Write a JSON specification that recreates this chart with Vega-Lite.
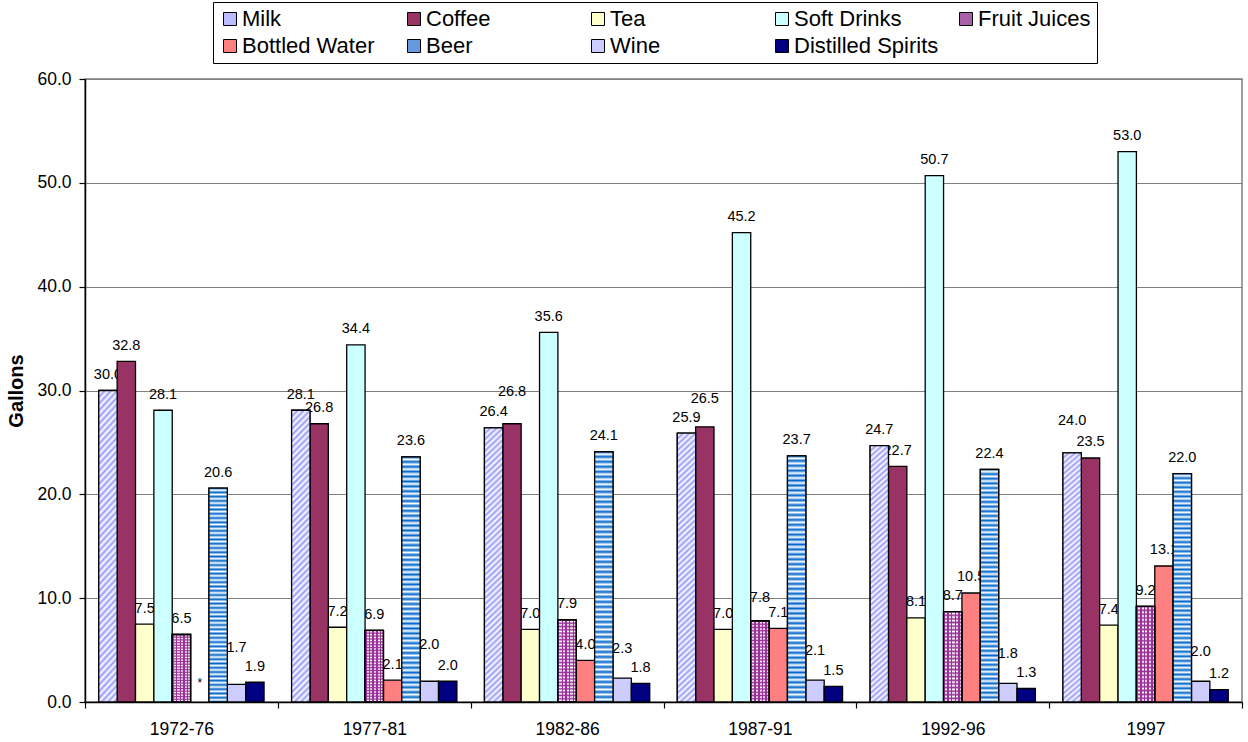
{
  "$schema": "https://vega.github.io/schema/vega-lite/v6.json",
  "width": 1157,
  "height": 623,
  "autosize": {"type": "none"},
  "padding": {"left": 85, "top": 79, "right": 6, "bottom": 40},
  "background": "white",
  "config": {
    "font": "Liberation Sans",
    "view": {"stroke": "#808080", "strokeWidth": 1.5},
    "axisX": {"domainColor": "#000", "domainWidth": 1.5, "tickColor": "#000", "tickWidth": 1.2, "tickSize": 6, "tickBand": "extent", "labelFontSize": 17.5, "labelPadding": 12, "labelColor": "#000", "labelAngle": 0, "grid": false},
    "axisY": {"domainColor": "#000", "domainWidth": 1.5, "tickColor": "#000", "tickWidth": 1.2, "tickSize": 6, "labelFontSize": 17.5, "labelPadding": 8, "labelColor": "#000", "gridColor": "#808080", "gridWidth": 1.2, "titleFontSize": 20, "titleFontWeight": "bold", "titleColor": "#000", "titlePadding": 10}
  },
  "data": {"values": [
    {"period": "1972-76", "drink": "Milk", "value": 30.0},
    {"period": "1972-76", "drink": "Coffee", "value": 32.8},
    {"period": "1972-76", "drink": "Tea", "value": 7.5},
    {"period": "1972-76", "drink": "Soft Drinks", "value": 28.1},
    {"period": "1972-76", "drink": "Fruit Juices", "value": 6.5},
    {"period": "1972-76", "drink": "Bottled Water", "value": null},
    {"period": "1972-76", "drink": "Beer", "value": 20.6},
    {"period": "1972-76", "drink": "Wine", "value": 1.7},
    {"period": "1972-76", "drink": "Distilled Spirits", "value": 1.9},
    {"period": "1977-81", "drink": "Milk", "value": 28.1},
    {"period": "1977-81", "drink": "Coffee", "value": 26.8},
    {"period": "1977-81", "drink": "Tea", "value": 7.2},
    {"period": "1977-81", "drink": "Soft Drinks", "value": 34.4},
    {"period": "1977-81", "drink": "Fruit Juices", "value": 6.9},
    {"period": "1977-81", "drink": "Bottled Water", "value": 2.1},
    {"period": "1977-81", "drink": "Beer", "value": 23.6},
    {"period": "1977-81", "drink": "Wine", "value": 2.0},
    {"period": "1977-81", "drink": "Distilled Spirits", "value": 2.0},
    {"period": "1982-86", "drink": "Milk", "value": 26.4},
    {"period": "1982-86", "drink": "Coffee", "value": 26.8},
    {"period": "1982-86", "drink": "Tea", "value": 7.0},
    {"period": "1982-86", "drink": "Soft Drinks", "value": 35.6},
    {"period": "1982-86", "drink": "Fruit Juices", "value": 7.9},
    {"period": "1982-86", "drink": "Bottled Water", "value": 4.0},
    {"period": "1982-86", "drink": "Beer", "value": 24.1},
    {"period": "1982-86", "drink": "Wine", "value": 2.3},
    {"period": "1982-86", "drink": "Distilled Spirits", "value": 1.8},
    {"period": "1987-91", "drink": "Milk", "value": 25.9},
    {"period": "1987-91", "drink": "Coffee", "value": 26.5},
    {"period": "1987-91", "drink": "Tea", "value": 7.0},
    {"period": "1987-91", "drink": "Soft Drinks", "value": 45.2},
    {"period": "1987-91", "drink": "Fruit Juices", "value": 7.8},
    {"period": "1987-91", "drink": "Bottled Water", "value": 7.1},
    {"period": "1987-91", "drink": "Beer", "value": 23.7},
    {"period": "1987-91", "drink": "Wine", "value": 2.1},
    {"period": "1987-91", "drink": "Distilled Spirits", "value": 1.5},
    {"period": "1992-96", "drink": "Milk", "value": 24.7},
    {"period": "1992-96", "drink": "Coffee", "value": 22.7},
    {"period": "1992-96", "drink": "Tea", "value": 8.1},
    {"period": "1992-96", "drink": "Soft Drinks", "value": 50.7},
    {"period": "1992-96", "drink": "Fruit Juices", "value": 8.7},
    {"period": "1992-96", "drink": "Bottled Water", "value": 10.5},
    {"period": "1992-96", "drink": "Beer", "value": 22.4},
    {"period": "1992-96", "drink": "Wine", "value": 1.8},
    {"period": "1992-96", "drink": "Distilled Spirits", "value": 1.3},
    {"period": "1997", "drink": "Milk", "value": 24.0},
    {"period": "1997", "drink": "Coffee", "value": 23.5},
    {"period": "1997", "drink": "Tea", "value": 7.4},
    {"period": "1997", "drink": "Soft Drinks", "value": 53.0},
    {"period": "1997", "drink": "Fruit Juices", "value": 9.2},
    {"period": "1997", "drink": "Bottled Water", "value": 13.1},
    {"period": "1997", "drink": "Beer", "value": 22.0},
    {"period": "1997", "drink": "Wine", "value": 2.0},
    {"period": "1997", "drink": "Distilled Spirits", "value": 1.2}
  ]},
  "encoding": {
    "x": {"field": "period", "type": "nominal", "sort": null, "title": null, "scale": {"paddingInner": 0, "paddingOuter": 0}},
    "xOffset": {"field": "drink", "type": "nominal", "sort": ["Milk", "Coffee", "Tea", "Soft Drinks", "Fruit Juices", "Bottled Water", "Beer", "Wine", "Distilled Spirits"], "scale": {"paddingInner": 0, "paddingOuter": 0.75}}
  },
  "layer": [
    {
      "transform": [{"filter": "datum.value != null && datum.drink != 'Wine' && !(datum.period == '1982-86' && datum.drink == 'Coffee') && !(datum.period == '1987-91' && datum.drink == 'Coffee') && !(datum.period == '1997' && datum.drink == 'Milk') && !(datum.period == '1987-91' && datum.drink == 'Fruit Juices')"}],
      "mark": {"type": "text", "fontSize": 14.5, "dy": -11.5, "baseline": "alphabetic", "align": "center", "color": "#000"},
      "encoding": {
        "y": {"field": "value", "type": "quantitative", "title": "Gallons", "scale": {"domain": [0, 60], "nice": false}, "axis": {"values": [0, 10, 20, 30, 40, 50, 60], "format": ".1f"}},
        "text": {"field": "value", "type": "quantitative", "format": ".1f"}
      }
    },
    {
      "transform": [{"filter": "(datum.period == '1982-86' && datum.drink == 'Coffee') || (datum.period == '1997' && datum.drink == 'Milk')"}],
      "mark": {"type": "text", "fontSize": 14.5, "dy": -28, "baseline": "alphabetic", "align": "center", "color": "#000"},
      "encoding": {
        "y": {"field": "value", "type": "quantitative", "title": "Gallons"},
        "text": {"field": "value", "type": "quantitative", "format": ".1f"}
      }
    },
    {
      "transform": [{"filter": "datum.period == '1987-91' && datum.drink == 'Coffee'"}],
      "mark": {"type": "text", "fontSize": 14.5, "dy": -24, "baseline": "alphabetic", "align": "center", "color": "#000"},
      "encoding": {
        "y": {"field": "value", "type": "quantitative", "title": "Gallons"},
        "text": {"field": "value", "type": "quantitative", "format": ".1f"}
      }
    },
    {
      "transform": [{"filter": "datum.period == '1987-91' && datum.drink == 'Fruit Juices'"}],
      "mark": {"type": "text", "fontSize": 14.5, "dy": -19, "baseline": "alphabetic", "align": "center", "color": "#000"},
      "encoding": {
        "y": {"field": "value", "type": "quantitative", "title": "Gallons"},
        "text": {"field": "value", "type": "quantitative", "format": ".1f"}
      }
    },
    {
      "transform": [{"filter": "datum.drink == 'Wine' && (datum.period == '1972-76' || datum.period == '1977-81')"}],
      "mark": {"type": "text", "fontSize": 14.5, "dy": -32, "baseline": "alphabetic", "align": "center", "color": "#000"},
      "encoding": {
        "y": {"field": "value", "type": "quantitative", "title": "Gallons"},
        "text": {"field": "value", "type": "quantitative", "format": ".1f"}
      }
    },
    {
      "transform": [{"filter": "datum.drink == 'Wine' && datum.period != '1972-76' && datum.period != '1977-81'"}],
      "mark": {"type": "text", "fontSize": 14.5, "dy": -25, "baseline": "alphabetic", "align": "center", "color": "#000"},
      "encoding": {
        "y": {"field": "value", "type": "quantitative", "title": "Gallons"},
        "text": {"field": "value", "type": "quantitative", "format": ".1f"}
      }
    },
    {
      "transform": [{"filter": "datum.value == null"}],
      "mark": {"type": "text", "fontSize": 12, "dy": -15, "baseline": "alphabetic", "align": "center", "color": "#000"},
      "encoding": {
        "y": {"datum": 0, "type": "quantitative", "title": "Gallons"},
        "text": {"value": "*"}
      }
    },
    {
      "transform": [{"filter": "datum.value != null"}],
      "mark": {"type": "bar", "stroke": "#000", "strokeWidth": 1.3},
      "encoding": {
        "y": {"field": "value", "type": "quantitative", "title": "Gallons"},
        "fill": {
          "field": "drink",
          "type": "nominal",
          "scale": {
            "domain": ["Milk", "Coffee", "Tea", "Soft Drinks", "Fruit Juices", "Bottled Water", "Beer", "Wine", "Distilled Spirits"],
            "range": ["#BBBBFF", "#993366", "#FFFFCC", "#CCFFFF", "#A860A8", "#FF8080", "#6699DD", "#CCCCFF", "#000080"]
          },
          "legend": {
            "title": null,
            "orient": "none",
            "legendX": 128,
            "legendY": -77,
            "direction": "horizontal",
            "columns": 5,
            "gridAlign": "all",
            "symbolType": "square",
            "symbolSize": 169,
            "symbolStrokeColor": "#000",
            "symbolStrokeWidth": 1,
            "labelFontSize": 22,
            "labelColor": "#000",
            "labelOffset": 1,
            "labelLimit": 300,
            "columnPadding": 16,
            "rowPadding": 5,
            "padding": 6,
            "strokeColor": "#000",
            "fillColor": "#fff"
          }
        }
      }
    },
    {
      "transform": [{"filter": "datum.drink == 'Milk'"}],
      "mark": {"type": "bar", "stroke": "#000", "strokeWidth": 1.3, "fill": {"gradient": "linear", "x1": 0, "y1": 0, "x2": 0.068, "y2": 1.07, "stops": [
        {"offset":0,"color":"#99f"},{"offset":0.01,"color":"#fff"},{"offset":0.02,"color":"#99f"},{"offset":0.03,"color":"#fff"},{"offset":0.04,"color":"#99f"},{"offset":0.05,"color":"#fff"},{"offset":0.06,"color":"#99f"},{"offset":0.07,"color":"#fff"},{"offset":0.08,"color":"#99f"},{"offset":0.09,"color":"#fff"},
        {"offset":0.1,"color":"#99f"},{"offset":0.11,"color":"#fff"},{"offset":0.12,"color":"#99f"},{"offset":0.13,"color":"#fff"},{"offset":0.14,"color":"#99f"},{"offset":0.15,"color":"#fff"},{"offset":0.16,"color":"#99f"},{"offset":0.17,"color":"#fff"},{"offset":0.18,"color":"#99f"},{"offset":0.19,"color":"#fff"},
        {"offset":0.2,"color":"#99f"},{"offset":0.21,"color":"#fff"},{"offset":0.22,"color":"#99f"},{"offset":0.23,"color":"#fff"},{"offset":0.24,"color":"#99f"},{"offset":0.25,"color":"#fff"},{"offset":0.26,"color":"#99f"},{"offset":0.27,"color":"#fff"},{"offset":0.28,"color":"#99f"},{"offset":0.29,"color":"#fff"},
        {"offset":0.3,"color":"#99f"},{"offset":0.31,"color":"#fff"},{"offset":0.32,"color":"#99f"},{"offset":0.33,"color":"#fff"},{"offset":0.34,"color":"#99f"},{"offset":0.35,"color":"#fff"},{"offset":0.36,"color":"#99f"},{"offset":0.37,"color":"#fff"},{"offset":0.38,"color":"#99f"},{"offset":0.39,"color":"#fff"},
        {"offset":0.4,"color":"#99f"},{"offset":0.41,"color":"#fff"},{"offset":0.42,"color":"#99f"},{"offset":0.43,"color":"#fff"},{"offset":0.44,"color":"#99f"},{"offset":0.45,"color":"#fff"},{"offset":0.46,"color":"#99f"},{"offset":0.47,"color":"#fff"},{"offset":0.48,"color":"#99f"},{"offset":0.49,"color":"#fff"},
        {"offset":0.5,"color":"#99f"},{"offset":0.51,"color":"#fff"},{"offset":0.52,"color":"#99f"},{"offset":0.53,"color":"#fff"},{"offset":0.54,"color":"#99f"},{"offset":0.55,"color":"#fff"},{"offset":0.56,"color":"#99f"},{"offset":0.57,"color":"#fff"},{"offset":0.58,"color":"#99f"},{"offset":0.59,"color":"#fff"},
        {"offset":0.6,"color":"#99f"},{"offset":0.61,"color":"#fff"},{"offset":0.62,"color":"#99f"},{"offset":0.63,"color":"#fff"},{"offset":0.64,"color":"#99f"},{"offset":0.65,"color":"#fff"},{"offset":0.66,"color":"#99f"},{"offset":0.67,"color":"#fff"},{"offset":0.68,"color":"#99f"},{"offset":0.69,"color":"#fff"},
        {"offset":0.7,"color":"#99f"},{"offset":0.71,"color":"#fff"},{"offset":0.72,"color":"#99f"},{"offset":0.73,"color":"#fff"},{"offset":0.74,"color":"#99f"},{"offset":0.75,"color":"#fff"},{"offset":0.76,"color":"#99f"},{"offset":0.77,"color":"#fff"},{"offset":0.78,"color":"#99f"},{"offset":0.79,"color":"#fff"},
        {"offset":0.8,"color":"#99f"},{"offset":0.81,"color":"#fff"},{"offset":0.82,"color":"#99f"},{"offset":0.83,"color":"#fff"},{"offset":0.84,"color":"#99f"},{"offset":0.85,"color":"#fff"},{"offset":0.86,"color":"#99f"},{"offset":0.87,"color":"#fff"},{"offset":0.88,"color":"#99f"},{"offset":0.89,"color":"#fff"},
        {"offset":0.9,"color":"#99f"},{"offset":0.91,"color":"#fff"},{"offset":0.92,"color":"#99f"},{"offset":0.93,"color":"#fff"},{"offset":0.94,"color":"#99f"},{"offset":0.95,"color":"#fff"},{"offset":0.96,"color":"#99f"},{"offset":0.97,"color":"#fff"},{"offset":0.98,"color":"#99f"},{"offset":0.99,"color":"#fff"},
        {"offset":1,"color":"#99f"}
      ]}},
      "encoding": {
        "y": {"field": "value", "type": "quantitative", "title": "Gallons"}
      }
    },
    {
      "transform": [{"filter": "datum.drink == 'Beer'"}],
      "mark": {"type": "bar", "stroke": "#000", "strokeWidth": 1.3, "fill": {"gradient": "linear", "x1": 0, "y1": 0, "x2": 0, "y2": 1, "stops": [
        {"offset":0,"color":"#06c"},{"offset":0.01,"color":"#fff"},{"offset":0.02,"color":"#06c"},{"offset":0.03,"color":"#fff"},{"offset":0.04,"color":"#06c"},{"offset":0.05,"color":"#fff"},{"offset":0.06,"color":"#06c"},{"offset":0.07,"color":"#fff"},{"offset":0.08,"color":"#06c"},{"offset":0.09,"color":"#fff"},
        {"offset":0.1,"color":"#06c"},{"offset":0.11,"color":"#fff"},{"offset":0.12,"color":"#06c"},{"offset":0.13,"color":"#fff"},{"offset":0.14,"color":"#06c"},{"offset":0.15,"color":"#fff"},{"offset":0.16,"color":"#06c"},{"offset":0.17,"color":"#fff"},{"offset":0.18,"color":"#06c"},{"offset":0.19,"color":"#fff"},
        {"offset":0.2,"color":"#06c"},{"offset":0.21,"color":"#fff"},{"offset":0.22,"color":"#06c"},{"offset":0.23,"color":"#fff"},{"offset":0.24,"color":"#06c"},{"offset":0.25,"color":"#fff"},{"offset":0.26,"color":"#06c"},{"offset":0.27,"color":"#fff"},{"offset":0.28,"color":"#06c"},{"offset":0.29,"color":"#fff"},
        {"offset":0.3,"color":"#06c"},{"offset":0.31,"color":"#fff"},{"offset":0.32,"color":"#06c"},{"offset":0.33,"color":"#fff"},{"offset":0.34,"color":"#06c"},{"offset":0.35,"color":"#fff"},{"offset":0.36,"color":"#06c"},{"offset":0.37,"color":"#fff"},{"offset":0.38,"color":"#06c"},{"offset":0.39,"color":"#fff"},
        {"offset":0.4,"color":"#06c"},{"offset":0.41,"color":"#fff"},{"offset":0.42,"color":"#06c"},{"offset":0.43,"color":"#fff"},{"offset":0.44,"color":"#06c"},{"offset":0.45,"color":"#fff"},{"offset":0.46,"color":"#06c"},{"offset":0.47,"color":"#fff"},{"offset":0.48,"color":"#06c"},{"offset":0.49,"color":"#fff"},
        {"offset":0.5,"color":"#06c"},{"offset":0.51,"color":"#fff"},{"offset":0.52,"color":"#06c"},{"offset":0.53,"color":"#fff"},{"offset":0.54,"color":"#06c"},{"offset":0.55,"color":"#fff"},{"offset":0.56,"color":"#06c"},{"offset":0.57,"color":"#fff"},{"offset":0.58,"color":"#06c"},{"offset":0.59,"color":"#fff"},
        {"offset":0.6,"color":"#06c"},{"offset":0.61,"color":"#fff"},{"offset":0.62,"color":"#06c"},{"offset":0.63,"color":"#fff"},{"offset":0.64,"color":"#06c"},{"offset":0.65,"color":"#fff"},{"offset":0.66,"color":"#06c"},{"offset":0.67,"color":"#fff"},{"offset":0.68,"color":"#06c"},{"offset":0.69,"color":"#fff"},
        {"offset":0.7,"color":"#06c"},{"offset":0.71,"color":"#fff"},{"offset":0.72,"color":"#06c"},{"offset":0.73,"color":"#fff"},{"offset":0.74,"color":"#06c"},{"offset":0.75,"color":"#fff"},{"offset":0.76,"color":"#06c"},{"offset":0.77,"color":"#fff"},{"offset":0.78,"color":"#06c"},{"offset":0.79,"color":"#fff"},
        {"offset":0.8,"color":"#06c"},{"offset":0.81,"color":"#fff"},{"offset":0.82,"color":"#06c"},{"offset":0.83,"color":"#fff"},{"offset":0.84,"color":"#06c"},{"offset":0.85,"color":"#fff"},{"offset":0.86,"color":"#06c"},{"offset":0.87,"color":"#fff"},{"offset":0.88,"color":"#06c"},{"offset":0.89,"color":"#fff"},
        {"offset":0.9,"color":"#06c"},{"offset":0.91,"color":"#fff"},{"offset":0.92,"color":"#06c"},{"offset":0.93,"color":"#fff"},{"offset":0.94,"color":"#06c"},{"offset":0.95,"color":"#fff"},{"offset":0.96,"color":"#06c"},{"offset":0.97,"color":"#fff"},{"offset":0.98,"color":"#06c"},{"offset":0.99,"color":"#fff"},
        {"offset":1,"color":"#06c"}
      ]}},
      "encoding": {
        "y": {"field": "value", "type": "quantitative", "title": "Gallons"}
      }
    },
    {
      "transform": [{"filter": "datum.drink == 'Fruit Juices' && datum.value != null"}],
      "mark": {"type": "bar", "stroke": "#000", "strokeWidth": 1.3, "fill": {"gradient": "linear", "x1": 0, "y1": 0, "x2": 0, "y2": 1, "stops": [
        {"offset":0,"color":"#939"},{"offset":0.02,"color":"#fff"},{"offset":0.04,"color":"#939"},{"offset":0.06,"color":"#fff"},{"offset":0.08,"color":"#939"},{"offset":0.1,"color":"#fff"},{"offset":0.12,"color":"#939"},{"offset":0.14,"color":"#fff"},{"offset":0.16,"color":"#939"},{"offset":0.18,"color":"#fff"},
        {"offset":0.2,"color":"#939"},{"offset":0.22,"color":"#fff"},{"offset":0.24,"color":"#939"},{"offset":0.26,"color":"#fff"},{"offset":0.28,"color":"#939"},{"offset":0.3,"color":"#fff"},{"offset":0.32,"color":"#939"},{"offset":0.34,"color":"#fff"},{"offset":0.36,"color":"#939"},{"offset":0.38,"color":"#fff"},
        {"offset":0.4,"color":"#939"},{"offset":0.42,"color":"#fff"},{"offset":0.44,"color":"#939"},{"offset":0.46,"color":"#fff"},{"offset":0.48,"color":"#939"},{"offset":0.5,"color":"#fff"},{"offset":0.52,"color":"#939"},{"offset":0.54,"color":"#fff"},{"offset":0.56,"color":"#939"},{"offset":0.58,"color":"#fff"},
        {"offset":0.6,"color":"#939"},{"offset":0.62,"color":"#fff"},{"offset":0.64,"color":"#939"},{"offset":0.66,"color":"#fff"},{"offset":0.68,"color":"#939"},{"offset":0.7,"color":"#fff"},{"offset":0.72,"color":"#939"},{"offset":0.74,"color":"#fff"},{"offset":0.76,"color":"#939"},{"offset":0.78,"color":"#fff"},
        {"offset":0.8,"color":"#939"},{"offset":0.82,"color":"#fff"},{"offset":0.84,"color":"#939"},{"offset":0.86,"color":"#fff"},{"offset":0.88,"color":"#939"},{"offset":0.9,"color":"#fff"},{"offset":0.92,"color":"#939"},{"offset":0.94,"color":"#fff"},{"offset":0.96,"color":"#939"},{"offset":0.98,"color":"#fff"},
        {"offset":1,"color":"#939"}
      ]}},
      "encoding": {
        "y": {"field": "value", "type": "quantitative", "title": "Gallons"}
      }
    },
    {
      "transform": [{"filter": "datum.drink == 'Fruit Juices' && datum.value != null"}],
      "mark": {"type": "bar", "stroke": "#000", "strokeWidth": 1.3, "fill": {"gradient": "linear", "x1": 0, "y1": 0, "x2": 1, "y2": 0, "stops": [
        {"offset":0,"color":"#939"},{"offset":0.08,"color":"#939"},{"offset":0.08,"color":"rgba(255,255,255,0)"},{"offset":0.2,"color":"rgba(255,255,255,0)"},
        {"offset":0.2,"color":"#939"},{"offset":0.28,"color":"#939"},{"offset":0.28,"color":"rgba(255,255,255,0)"},{"offset":0.4,"color":"rgba(255,255,255,0)"},
        {"offset":0.4,"color":"#939"},{"offset":0.48,"color":"#939"},{"offset":0.48,"color":"rgba(255,255,255,0)"},{"offset":0.6,"color":"rgba(255,255,255,0)"},
        {"offset":0.6,"color":"#939"},{"offset":0.68,"color":"#939"},{"offset":0.68,"color":"rgba(255,255,255,0)"},{"offset":0.8,"color":"rgba(255,255,255,0)"},
        {"offset":0.8,"color":"#939"},{"offset":0.88,"color":"#939"},{"offset":0.88,"color":"rgba(255,255,255,0)"},{"offset":1,"color":"rgba(255,255,255,0)"}
      ]}},
      "encoding": {
        "y": {"field": "value", "type": "quantitative", "title": "Gallons"}
      }
    }
  ]
}
